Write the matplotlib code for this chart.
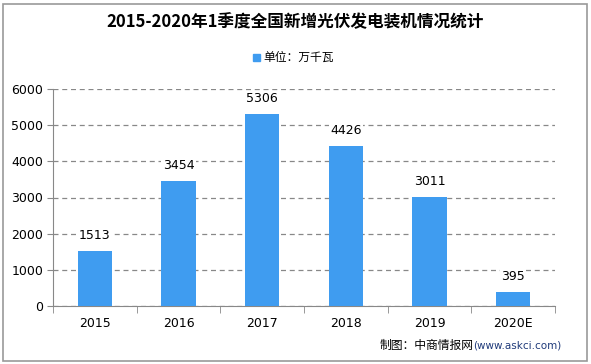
import matplotlib.pyplot as plt
from matplotlib.patches import Rectangle
import numpy as np

plt.rcParams['font.family'] = ['Noto Sans CJK SC', 'DejaVu Sans']

years = ['2015', '2016', '2017', '2018', '2019', '2020E']
values = [1513, 3454, 5306, 4426, 3011, 395]
yticks = [0, 1000, 2000, 3000, 4000, 5000, 6000]

bar_color = '#3f9cf0'

fig = plt.figure(figsize=(5.91, 3.64), dpi=100)
ax = fig.add_axes([53/591, 1-306/364, 502/591, 217/364])

x = np.arange(len(years))
ax.bar(x, values, width=0.41, color=bar_color, zorder=3)
for xi, v in zip(x, values):
    ax.text(xi, v + 250, str(v), ha='center', va='bottom', fontsize=9, family='DejaVu Sans', zorder=4,
            bbox=dict(facecolor='white', edgecolor='none', pad=1))

ax.set_xlim(-0.5, len(years) - 0.5)
ax.set_ylim(0, 6000)
ax.set_yticks(yticks)
ax.set_yticklabels([str(t) for t in yticks], fontsize=9, family='DejaVu Sans')
ax.set_xticks(x)
ax.set_xticklabels(years, fontsize=9, family='DejaVu Sans')
# tick marks between the categories
ax.set_xticks(np.arange(len(years) + 1) - 0.5, minor=True)
ax.tick_params(axis='x', which='major', length=0, pad=8)
ax.tick_params(axis='x', which='minor', length=5, color='#888888')
ax.tick_params(axis='y', length=4, color='#888888', pad=3)
ax.yaxis.grid(True, linestyle=(0, (4, 3)), color='#888888', linewidth=0.9, zorder=0)
for s in ['top', 'right']:
    ax.spines[s].set_visible(False)
for s in ['left', 'bottom']:
    ax.spines[s].set_color('#888888')

fig.text(0.5, 1 - 22/364, '2015-2020年1季度全国新增光伏发电装机情况统计', ha='center', va='center',
         fontsize=12, fontweight='bold')

# legend
fig.patches.append(Rectangle((253/591, 1 - 61/364), 7/591, 7/364, transform=fig.transFigure,
                             color=bar_color))
fig.text(263/591, 1 - 57/364, '单位：万千瓦', ha='left', va='center', fontsize=8.5)

# source
fig.text(380/591, 1 - 345/364, '制图：中商情报网', ha='left', va='center', fontsize=8.5)
fig.text(473/591, 1 - 345/364, '(www.askci.com)', ha='left', va='center', fontsize=7.5,
         color='#1f3a7a', family='DejaVu Sans')

fig.patches.append(Rectangle((3/591, 3/364), 584/591, 357/364, transform=fig.transFigure,
                             fill=False, edgecolor='#999999', linewidth=1.2))

fig.savefig('out.png', dpi=100)
